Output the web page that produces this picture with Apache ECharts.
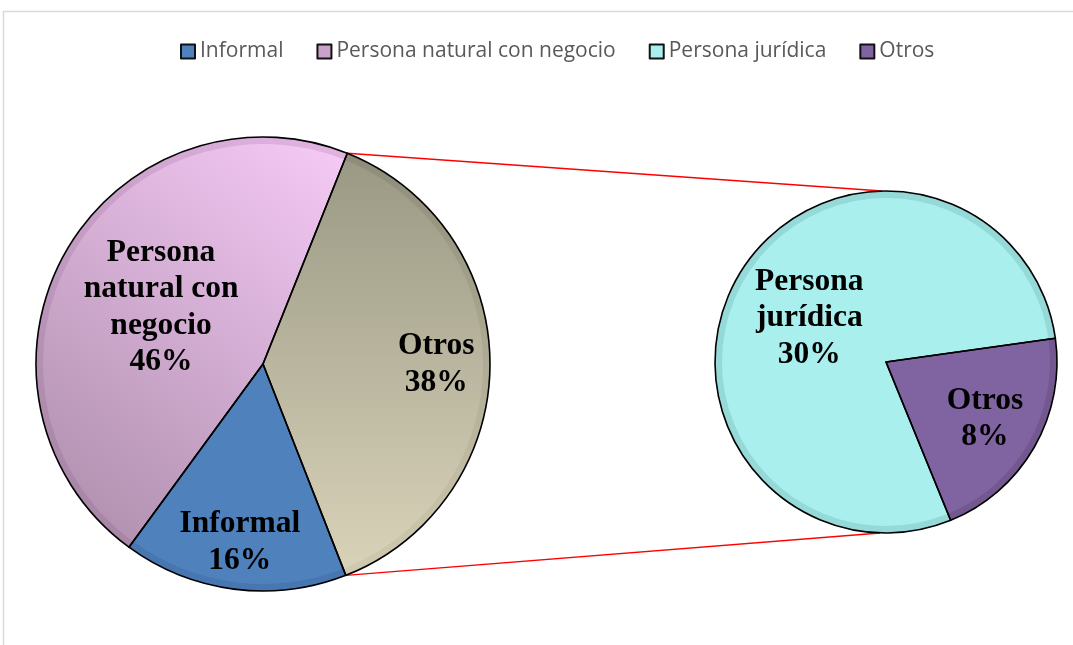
<!DOCTYPE html>
<html>
<head>
<meta charset="utf-8">
<script src="https://cdn.jsdelivr.net/npm/echarts@6/dist/echarts.min.js"></script>
<style>
  html, body { margin: 0; padding: 0; background: #fff; }
  #chart { width: 1073px; height: 645px; }
</style>
</head>
<body>
<div id="chart"></div>
<script>
// ---- data ----
const legendNames = ['Informal', 'Persona natural con negocio', 'Persona jurídica', 'Otros'];
const leftNames = ['Otros', 'Informal', 'Persona natural con negocio'];
const leftValues = [38, 16, 46];
const rightNames = ['Otros', 'Persona jurídica'];
const rightValues = [8, 30];
const wrappedNames = {
  'Persona natural con negocio': 'Persona\nnatural con\nnegocio',
  'Persona jurídica': 'Persona\njurídica',
  'Informal': 'Informal',
  'Otros': 'Otros'
};

// ---- layout / style ----
const L = { cx: 263, cy: 364, r: 227, start: 68.2, labelFrac: [0.75, 0.78, 0.5] };
const R = { cx: 886, cy: 362, r: 171, start: 8, labelFrac: [0.65, 0.5] };
const BAND = 7;

const lg = (x, y, x2, y2, c1, c2) => new echarts.graphic.LinearGradient(x, y, x2, y2,
  [{ offset: 0, color: c1 }, { offset: 1, color: c2 }]);

const leftFill = {
  'Otros': lg(0, 0, 0, 1, '#9b9985', '#d8d2b8'),
  'Informal': '#4f81bd',
  'Persona natural con negocio': lg(1, 0, 0, 1, '#f6caf6', '#ab8caa')
};
const leftBand = {
  'Otros': lg(0, 0, 0, 1, '#8e8c79', '#d0caaf'),
  'Informal': '#4776b0',
  'Persona natural con negocio': lg(1, 0, 0, 1, '#e3b4e3', '#a0809f')
};
const rightFill = { 'Otros': '#8064a2', 'Persona jurídica': '#a9efee' };
const rightBand = { 'Otros': '#72588f', 'Persona jurídica': '#95dad9' };
const legendColors = {
  'Informal': '#4f81bd', 'Persona natural con negocio': '#c9a2c9',
  'Persona jurídica': '#a8efee', 'Otros': '#8064a2'
};

function midAngle(values, start, i) {
  const total = values.reduce((a, b) => a + b, 0);
  let before = 0;
  for (let k = 0; k < i; k++) before += values[k];
  return (start - 360 * (before + values[i] / 2) / total) * Math.PI / 180;
}
function makeLayout(values, P) {
  return function (params) {
    const a = midAngle(values, P.start, params.dataIndex);
    const d = P.labelFrac[params.dataIndex] * P.r - 0.5 * P.r;
    return { dx: d * Math.cos(a), dy: -d * Math.sin(a) };
  };
}

const labelStyle = {
  show: true,
  position: 'inside',
  fontFamily: 'Liberation Serif',
  fontWeight: 'bold',
  fontSize: 31.5,
  lineHeight: 36.5,
  color: '#000',
  formatter: p => wrappedNames[p.name] + '\n' + p.value + '%'
};

// connector lines, from the left pie's "Otros" slice edges to the right pie
const leftTotal = leftValues.reduce((a, b) => a + b, 0);
const a0 = L.start * Math.PI / 180;
const a1 = (L.start - 360 * leftValues[0] / leftTotal) * Math.PI / 180;
const p0 = [L.cx + L.r * Math.cos(a0), L.cy - L.r * Math.sin(a0)];
const p1 = [L.cx + L.r * Math.cos(a1), L.cy - L.r * Math.sin(a1)];

function pieLayers(P, names, values, band, fill) {
  const common = {
    type: 'pie', center: [P.cx, P.cy], startAngle: P.start, clockwise: true,
    avoidLabelOverlap: false, labelLine: { show: false }, emphasis: { disabled: true }
  };
  return [
    Object.assign({}, common, {
      radius: P.r, silent: true, label: { show: false }, z: 2,
      itemStyle: { borderWidth: 0 },
      data: names.map((n, i) => ({ name: n, value: values[i], itemStyle: { color: band[n] } }))
    }),
    Object.assign({}, common, {
      radius: P.r - BAND, silent: true, label: { show: false }, z: 3,
      itemStyle: { borderWidth: 0 },
      data: names.map((n, i) => ({ name: n, value: values[i], itemStyle: { color: fill[n] } }))
    }),
    Object.assign({}, common, {
      radius: P.r, z: 4,
      label: labelStyle,
      labelLayout: makeLayout(values, P),
      itemStyle: { color: 'rgba(0,0,0,0)', borderColor: '#000', borderWidth: 1.6 },
      data: names.map((n, i) => ({ name: n, value: values[i] }))
    })
  ];
}

const chart = echarts.init(document.getElementById('chart'), null, { renderer: 'canvas' });
chart.setOption({
  backgroundColor: '#fff',
  animation: false,
  legend: {
    top: 36,
    left: 175,
    itemWidth: 14,
    itemHeight: 14,
    itemGap: 33,
    icon: 'rect',
    textStyle: { fontFamily: 'Open Sans', fontSize: 21, color: '#595959' },
    data: legendNames.map(n => ({
      name: n,
      itemStyle: { color: legendColors[n], borderColor: '#111', borderWidth: 2 }
    }))
  },
  graphic: [
    { type: 'rect', z: -10, silent: true,
      shape: { x: 3.5, y: 11.5, width: 1200, height: 800 },
      style: { fill: null, stroke: '#d9d9d9', lineWidth: 1.5 } },
    { type: 'line', z: 1, silent: true,
      shape: { x1: p0[0], y1: p0[1], x2: R.cx - 4, y2: R.cy - R.r },
      style: { stroke: '#ff0000', lineWidth: 1.3 } },
    { type: 'line', z: 1, silent: true,
      shape: { x1: p1[0], y1: p1[1], x2: R.cx - 6, y2: R.cy + R.r },
      style: { stroke: '#ff0000', lineWidth: 1.3 } }
  ],
  series: [].concat(
    pieLayers(R, rightNames, rightValues, rightBand, rightFill),
    pieLayers(L, leftNames, leftValues, leftBand, leftFill)
  )
});
</script>
</body>
</html>
